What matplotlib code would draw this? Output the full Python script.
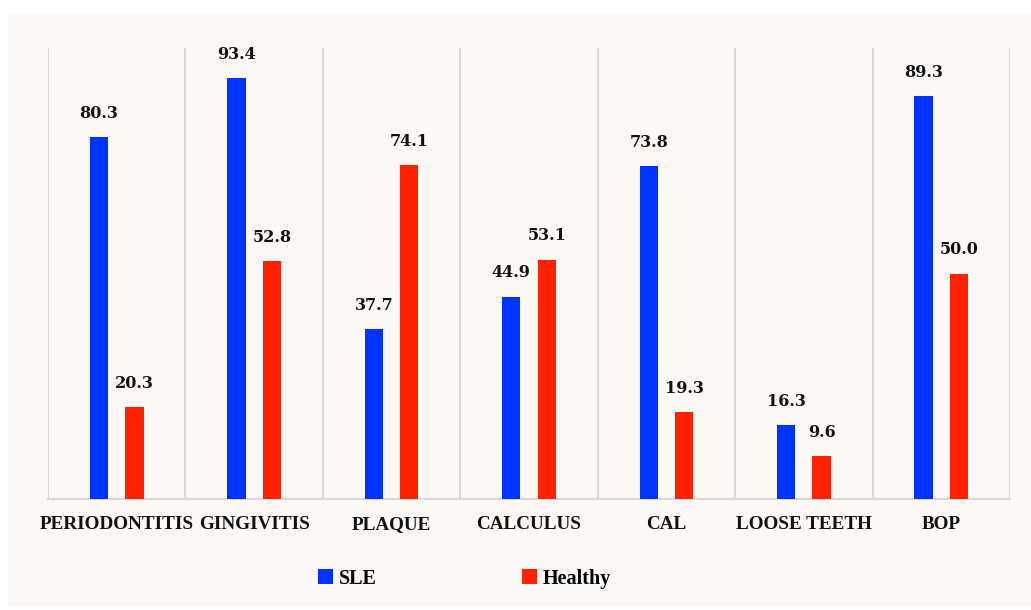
import matplotlib.pyplot as plt
import matplotlib.patches as mpatches
import numpy as np

# Data
categories = ['PERIODONTITIS', 'GINGIVITIS', 'PLAQUE', 'CALCULUS', 'CAL', 'LOOSE TEETH', 'BOP']
sle = [80.3, 93.4, 37.7, 44.9, 73.8, 16.3, 89.3]
healthy = [20.3, 52.8, 74.1, 53.1, 19.3, 9.6, 50.0]

SLE_COLOR = '#0033FF'
HEALTHY_COLOR = '#FF2200'
PANEL_COLOR = '#FCF8F5'
GRID_COLOR = '#D9D9D9'

plt.rcParams['font.family'] = ['Liberation Serif', 'DejaVu Serif']
plt.rcParams['font.weight'] = 'bold'

fig = plt.figure(figsize=(10.31, 6.10), dpi=100, facecolor='white')

# cream panel behind the chart
panel = mpatches.Rectangle((8 / 1031, 3 / 610), 1 - 8 / 1031, 594 / 610,
                           transform=fig.transFigure, facecolor=PANEL_COLOR,
                           edgecolor='none', zorder=-10)
fig.patches.append(panel)

ax = fig.add_axes([48 / 1031, 111 / 610, 962 / 1031, 451 / 610])
ax.set_facecolor('none')

x = np.arange(len(categories))
w = 0.133
off = 0.129
b1 = ax.bar(x - off, sle, w, color=SLE_COLOR, label='SLE', zorder=3)
b2 = ax.bar(x + off, healthy, w, color=HEALTHY_COLOR, label='Healthy', zorder=3)

# value labels (wider serif digits, like the reference)
for bars, vals in ((b1, sle), (b2, healthy)):
    for rect, v in zip(bars, vals):
        ax.annotate(f'{v:.1f}', (rect.get_x() + rect.get_width() / 2, v),
                    xytext=(0, 17), textcoords='offset points',
                    ha='center', va='center', fontsize=11.5, fontweight='bold',
                    family='DejaVu Serif', color='#111111')

ax.set_xlim(-0.5, len(categories) - 0.5)
ax.set_ylim(0, 100)

# vertical separators between categories
for k in range(len(categories) + 1):
    ax.axvline(k - 0.5, color=GRID_COLOR, lw=1.5, zorder=1)

for s in ['top', 'right', 'left']:
    ax.spines[s].set_visible(False)
ax.spines['bottom'].set_color(GRID_COLOR)
ax.spines['bottom'].set_linewidth(1.5)
ax.set_yticks([])
ax.set_xticks(x)
ax.set_xticklabels(categories, fontsize=13.8, fontweight='bold', color='#111111')
ax.tick_params(axis='x', length=0, pad=12)

fig.legend(handles=[b1, b2], loc='center', bbox_to_anchor=(0.4506, 0.051),
           ncol=2, frameon=False, prop={'weight': 'bold', 'size': 14.5},
           handlelength=0.75, handleheight=0.75, handletextpad=0.3,
           columnspacing=7.2)

fig.savefig('out.png', dpi=100, facecolor='white')
